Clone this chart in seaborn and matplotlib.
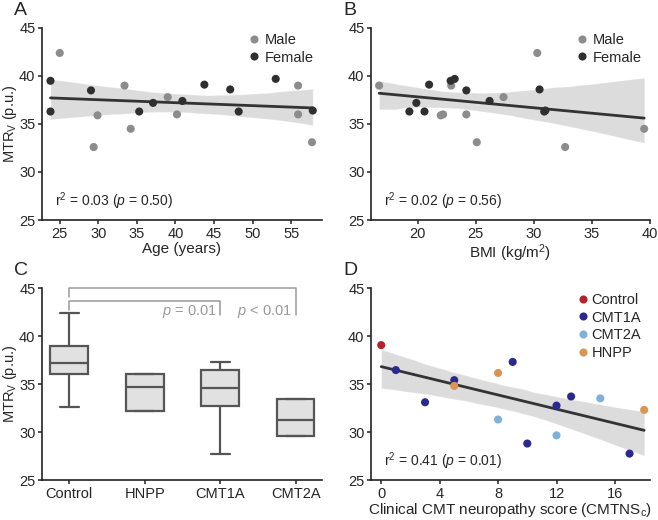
import matplotlib
matplotlib.use("Agg")
import matplotlib.pyplot as plt
import numpy as np
import pandas as pd
import seaborn as sns

# ---------------- data ----------------
# Panels A/B: healthy controls
male_mtr = [42.4, 32.6, 35.9, 39.0, 34.5, 37.8, 36.0, 39.0, 36.0, 33.1]
male_age = [25.0, 29.4, 29.9, 33.4, 34.2, 39.0, 40.2, 55.9, 55.9, 57.7]
male_bmi = [30.3, 32.7, 22.0, 16.7, 39.5, 27.4, 22.2, 22.9, 24.2, 25.1]

female_mtr = [39.5, 36.3, 38.5, 36.3, 37.2, 37.4, 39.1, 38.6, 36.3, 39.7, 36.4]
female_age = [23.8, 23.8, 29.05, 35.3, 37.1, 40.9, 43.75, 47.1, 48.2, 53.0, 57.8]
female_bmi = [22.85, 19.3, 24.2, 20.6, 19.9, 26.2, 21.0, 30.5, 30.9, 23.2, 31.0]

# Panel C: group summaries (min, Q1, median, Q3, max) for patient groups
groups = ["Control", "HNPP", "CMT1A", "CMT2A"]
hnpp_box = [32.2, 32.2, 34.7, 36.0, 36.0]
cmt1a_box = [27.7, 32.75, 34.55, 36.45, 37.3]
cmt2a_box = [29.6, 29.6, 31.3, 33.45, 33.45]

# Panel D: clinical score vs MTR
d_group = ["Control", "CMT1A", "CMT1A", "CMT1A", "CMT1A", "CMT1A", "CMT1A", "CMT1A", "CMT1A",
           "CMT2A", "CMT2A", "CMT2A", "HNPP", "HNPP", "HNPP"]
d_score = [0, 1, 3, 5, 9, 10, 12, 13, 17, 8, 12, 15, 5, 8, 18]
d_mtr = [39.05, 36.45, 33.1, 35.4, 37.3, 28.8, 32.75, 33.7, 27.75, 31.3, 29.65, 33.5, 34.8, 36.15, 32.3]
d_order = ["Control", "CMT1A", "CMT2A", "HNPP"]
d_colors = ["#b3222f", "#2a2a8e", "#7fb1d9", "#db9452"]

# ---------------- style ----------------
sns.set_style("ticks")
plt.rcParams["font.family"] = ["Liberation Sans", "DejaVu Sans"]
plt.rcParams["mathtext.fontset"] = "custom"
plt.rcParams["mathtext.rm"] = "Liberation Sans"
plt.rcParams["mathtext.it"] = "Liberation Sans:italic"
plt.rcParams["mathtext.default"] = "regular"
AXC = "#222222"
TXT = "#262626"
plt.rcParams.update({
    "axes.edgecolor": AXC, "axes.linewidth": 1.2,
    "xtick.color": AXC, "ytick.color": AXC,
    "xtick.labelcolor": TXT, "ytick.labelcolor": TXT,
    "xtick.major.size": 3.2, "ytick.major.size": 3.2,
    "xtick.major.width": 1.1, "ytick.major.width": 1.1,
    "xtick.major.pad": 1.5, "ytick.major.pad": 1.5,
    "xtick.labelsize": 10.5, "ytick.labelsize": 10.5,
    "axes.labelsize": 11, "axes.labelcolor": TXT,
})

fig = plt.figure(figsize=(6.58, 5.2), dpi=100)
W, H = 658, 520
def add_ax(l, t, r, b):
    return fig.add_axes([l / W, 1 - b / H, (r - l) / W, (b - t) / H])

axA = add_ax(42, 28, 322, 220)
axB = add_ax(371, 28, 650, 220)
axC = add_ax(42, 288, 322, 480)
axD = add_ax(371, 288, 650, 480)

MALE_C = "#8c8c8c"
FEMALE_C = "#2f2f2f"
LINE_C = "#333333"

ctrl = pd.DataFrame({
    "sex": ["Male"] * len(male_mtr) + ["Female"] * len(female_mtr),
    "age": male_age + female_age,
    "bmi": male_bmi + female_bmi,
    "mtr": male_mtr + female_mtr,
})

def reg_panel(ax, x, df, hue, order, palette):
    sns.regplot(data=df, x=x, y="mtr", ax=ax, scatter=False, ci=95, seed=3,
                color=LINE_C, line_kws=dict(lw=2.0, zorder=3))
    sns.scatterplot(data=df, x=x, y="mtr", hue=hue, hue_order=order, palette=palette,
                    s=34, edgecolor="none", linewidth=0, ax=ax, zorder=4)
    for c in ax.collections:
        if isinstance(c, matplotlib.collections.PolyCollection):
            c.set_alpha(0.17)
    ax.set_ylim(25, 45)
    ax.set_yticks([25, 30, 35, 40, 45])
    sns.despine(ax=ax)

def add_legend(ax, fs=10.5, tp=0.1):
    h, l = ax.get_legend_handles_labels()
    ax.legend(h, l, loc="upper right", bbox_to_anchor=(1.0, 1.02), frameon=False,
              fontsize=fs, handletextpad=tp, labelspacing=0.25, handlelength=1.2,
              borderaxespad=0.2)

def r2_text(ax, s):
    ax.text(0.045, 0.10, s, transform=ax.transAxes, fontsize=10, color=TXT, va="center")

def ylab(ax):
    ax.set_ylabel("MTR$_V$ (p.u.)", fontsize=10.5)
    ax.yaxis.set_label_coords(-0.082, 0.5)

sex_pal = {"Male": MALE_C, "Female": FEMALE_C}
reg_panel(axA, "age", ctrl, "sex", ["Male", "Female"], sex_pal)
axA.set_xlim(22.7, 59)
axA.set_xticks([25, 30, 35, 40, 45, 50, 55])
axA.set_xlabel("Age (years)", labelpad=1)
ylab(axA)
add_legend(axA)
r2_text(axA, r"r$^{2}$ = 0.03 ($\mathit{p}$ = 0.50)")

reg_panel(axB, "bmi", ctrl, "sex", ["Male", "Female"], sex_pal)
axB.set_xlim(16, 40)
axB.set_xticks([20, 25, 30, 35, 40])
axB.set_xlabel("BMI (kg/m$^2$)", labelpad=1)
axB.set_ylabel("")
add_legend(axB)
r2_text(axB, r"r$^{2}$ = 0.02 ($\mathit{p}$ = 0.56)")

# ---------------- panel C ----------------
control_vals = male_mtr + female_mtr
box_df = pd.DataFrame({
    "group": ["Control"] * len(control_vals) + ["HNPP"] * 5 + ["CMT1A"] * 5 + ["CMT2A"] * 5,
    "mtr": control_vals + hnpp_box + cmt1a_box + cmt2a_box,
})
sns.boxplot(data=box_df, x="group", y="mtr", order=groups, ax=axC, whis=(0, 100),
            width=0.5, color="#e1e1e1", linecolor="#555555", linewidth=1.6,
            showfliers=False, saturation=1)
axC.set_xlim(-0.362, 3.35)
axC.set_ylim(25, 45)
axC.set_yticks([25, 30, 35, 40, 45])
axC.set_xlabel("")
ylab(axC)
sns.despine(ax=axC)

BR = "#9a9a9a"
brackets = [  # (group index from, to, bar height, left drop, right drop, label)
    (0, 2, 43.6, 42.7, 42.15, r"$\mathit{p}$ = 0.01"),
    (0, 3, 45.05, 44.1, 42.15, r"$\mathit{p}$ < 0.01"),
]
for i0, i1, yb, yl, yr, lab in brackets:
    axC.plot([i0, i0, i1, i1], [yl, yb, yb, yr], color=BR, lw=1.1, clip_on=False, zorder=5)
    axC.text(i1 - 0.05, yr + 0.4, lab, color=BR, fontsize=10.5, ha="right", va="center")

# ---------------- panel D ----------------
dfD = pd.DataFrame({"group": d_group, "score": d_score, "mtr": d_mtr})
reg_panel(axD, "score", dfD, "group", d_order, dict(zip(d_order, d_colors)))
axD.set_xlim(-0.7, 18.4)
axD.set_xticks([0, 4, 8, 12, 16])
axD.set_xlabel("Clinical CMT neuropathy score (CMTNS$_c$)", labelpad=0.5)
axD.set_ylabel("")
add_legend(axD, tp=0.0)
r2_text(axD, r"r$^{2}$ = 0.41 ($\mathit{p}$ = 0.01)")

# panel letters
for lab, x, y in [("A", 14, 2), ("B", 343, 2), ("C", 14, 262), ("D", 343, 262)]:
    fig.text(x / W, 1 - y / H, lab, fontsize=14, va="top", ha="left", color=TXT)

fig.savefig("out.png", dpi=100)
